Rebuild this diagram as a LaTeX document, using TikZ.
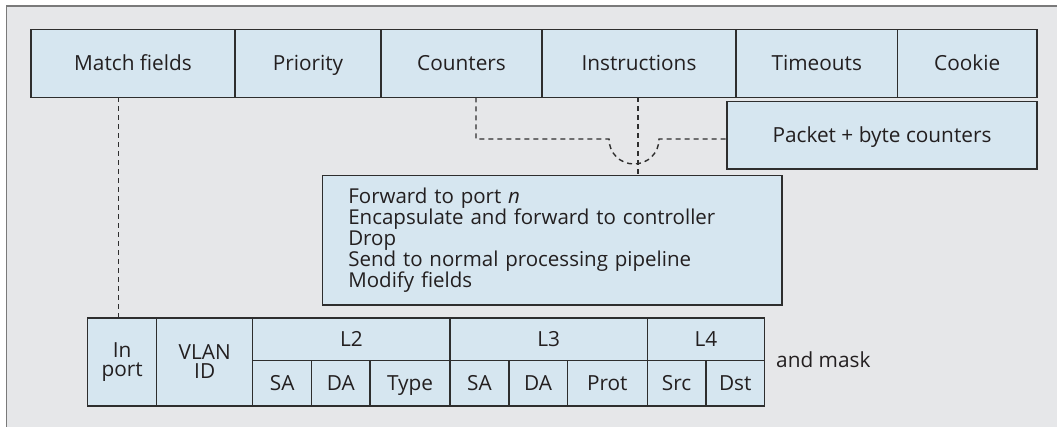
\documentclass[tikz,border=0pt]{standalone}
\usepackage{fontspec}
\setmainfont{Open Sans}
\definecolor{bg}{HTML}{E6E7E9}
\definecolor{boxfill}{HTML}{D6E6F0}
\definecolor{edge}{HTML}{2E2E2E}
\definecolor{framec}{HTML}{7A7A7A}
\definecolor{ink}{HTML}{231F20}
\begin{document}
\begin{tikzpicture}[x=1pt,y=-1pt,
  cell/.style={draw=edge, fill=boxfill, line width=1.4pt, inner sep=0pt, outer sep=0pt,
    anchor=north west, text=ink, font=\fontsize{20.8}{21}\selectfont},
  one/.style={text height=15pt, text depth=0pt},
  link/.style={draw=edge, line width=1.4pt, dash pattern=on 5pt off 4pt}
]
\useasboundingbox (0,0) rectangle (1057,427);
\fill[white] (0,0) rectangle (1057,427);
\fill[bg] (6.5,6) rectangle (1057,427);
\draw[framec, line width=1.5pt] (6.5,427) -- (6.5,6) -- (1057,6);

% top row
\node[cell, one, minimum width=204pt, minimum height=68pt] (mf) at (31,29.3) {Match fields};
\node[cell, one, minimum width=146pt, minimum height=68pt] (pri) at (235,29.3) {Priority};
\node[cell, one, minimum width=161pt, minimum height=68pt] (ctr) at (381,29.3) {Counters};
\node[cell, one, minimum width=194pt, minimum height=68pt] (ins) at (542,29.3) {Instructions};
\node[cell, one, minimum width=161.5pt, minimum height=68pt] (tmo) at (736,29.3) {Timeouts};
\node[cell, one, minimum width=139.5pt, minimum height=68pt] (cook) at (897.5,29.3) {Cookie};

% packet counters
\node[cell, one, minimum width=310pt, minimum height=67.3pt] (pkt) at (727,101.7) {Packet + byte counters};

% actions
\node[cell, minimum width=459pt, minimum height=129.3pt, align=left, text width=408pt,
  inner xsep=25.6pt, font=\fontsize{20.5}{21}\selectfont] (act) at (322.7,175.7)
  {Forward to port \textit{n}\\Encapsulate and forward to controller\\Drop\\Send to normal processing pipeline\\Modify fields};

% match table
\node[cell, minimum width=69pt, minimum height=88pt, align=center, font=\fontsize{20.8}{19}\selectfont] (inport) at (87.7,318) {In\\port};
\node[cell, minimum width=96pt, minimum height=88pt, align=center, font=\fontsize{20.8}{19}\selectfont] (vlan) at (156.7,318) {VLAN\\ID};
\node[cell, one, minimum width=197.3pt, minimum height=42.7pt] (ltwo) at (252.7,318) {L2};
\node[cell, one, minimum width=197.3pt, minimum height=42.7pt] (lthree) at (450,318) {L3};
\node[cell, one, minimum width=117.2pt, minimum height=42.7pt] (lfour) at (647.3,318) {L4};
\node[cell, one, minimum width=59pt, minimum height=45.3pt] (sa2) at (252.7,360.7) {SA};
\node[cell, one, minimum width=58.3pt, minimum height=45.3pt] (da2) at (311.7,360.7) {DA};
\node[cell, one, minimum width=80pt, minimum height=45.3pt] (type2) at (370,360.7) {Type};
\node[cell, one, minimum width=59pt, minimum height=45.3pt] (sa3) at (450,360.7) {SA};
\node[cell, one, minimum width=58.3pt, minimum height=45.3pt] (da3) at (509,360.7) {DA};
\node[cell, one, minimum width=80pt, minimum height=45.3pt] (prot3) at (567.3,360.7) {Prot};
\node[cell, one, minimum width=58.7pt, minimum height=45.3pt] (src4) at (647.3,360.7) {Src};
\node[cell, one, minimum width=58.5pt, minimum height=45.3pt] (dst4) at (706,360.7) {Dst};
\node[anchor=base west, inner sep=0pt, text=ink, font=\fontsize{20.8}{21}\selectfont] (mask) at (776,367) {and mask};

% connectors
\coordinate (hopL) at (609,139);
\coordinate (hopR) at (659,139);
\draw[link] (118.5,0 |- mf.south) -- (118.5,0 |- inport.north);
\draw[link] (476,0 |- ctr.south) |- (hopL)
  .. controls (609,153) and (620,164) .. (634,164)
  .. controls (648,164) and (659,153) .. (hopR) -- (pkt.west |- hopR);
\draw[link] (638,0 |- ins.south) -- (638,0 |- act.north);
\end{tikzpicture}
\end{document}
